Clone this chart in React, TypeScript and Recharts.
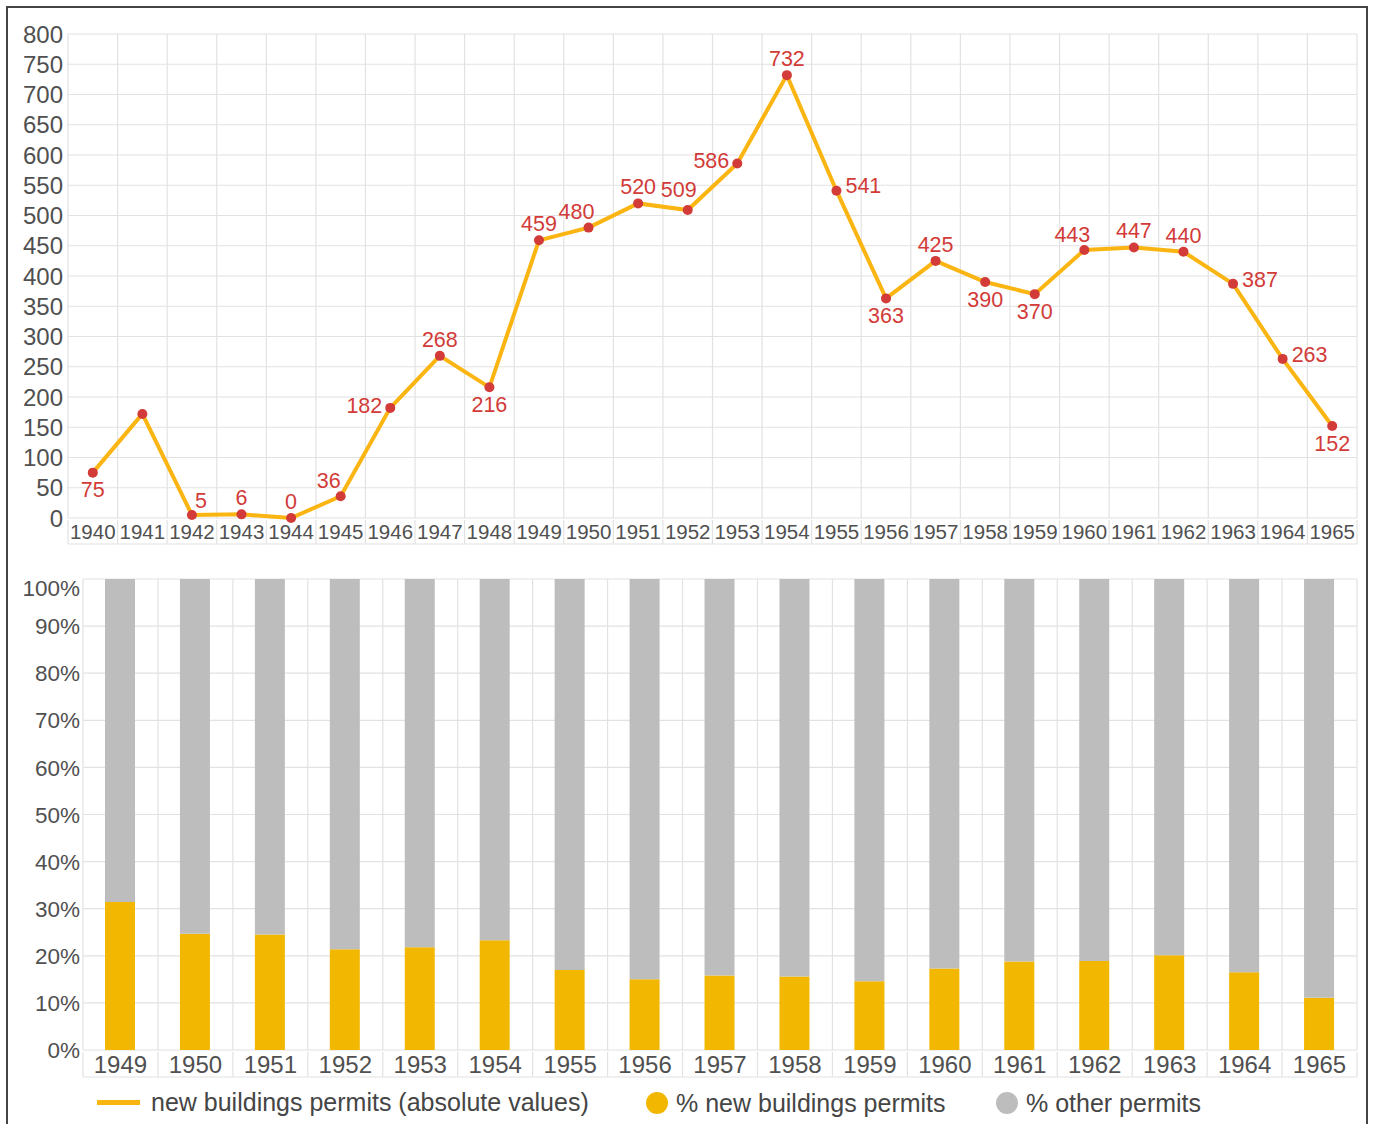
import React from 'react';
import { LineChart, Line, BarChart, Bar, XAxis, YAxis, CartesianGrid, LabelList } from 'recharts';

// top chart: absolute number of new building permits
const lineYears = ['1940', '1941', '1942', '1943', '1944', '1945', '1946', '1947', '1948', '1949', '1950', '1951', '1952', '1953', '1954', '1955', '1956', '1957', '1958', '1959', '1960', '1961', '1962', '1963', '1964', '1965'];
const newPermits = [75, 172, 5, 6, 0, 36, 182, 268, 216, 459, 480, 520, 509, 586, 732, 541, 363, 425, 390, 370, 443, 447, 440, 387, 263, 152];
// where each value label sits relative to its dot ('none' = no label)
const labelSpots = ['below', 'none', 'aboveRight', 'above', 'above', 'aboveLeft', 'left', 'above', 'below', 'above', 'aboveLeft', 'above', 'aboveLeft2', 'left', 'above', 'right', 'below', 'above', 'below', 'below', 'aboveLeft', 'above', 'above', 'right', 'right', 'below'];
const absTicks = [0, 50, 100, 150, 200, 250, 300, 350, 400, 450, 500, 550, 600, 650, 700, 750, 800];

// bottom chart: share of new building permits vs other permits
const barYears = ['1949', '1950', '1951', '1952', '1953', '1954', '1955', '1956', '1957', '1958', '1959', '1960', '1961', '1962', '1963', '1964', '1965'];
const pctNew = [31.4, 24.7, 24.5, 21.4, 21.8, 23.3, 17.0, 15.0, 15.8, 15.6, 14.6, 17.3, 18.8, 18.9, 20.1, 16.5, 11.1];
const pctOther = [68.6, 75.3, 75.5, 78.6, 78.2, 76.7, 83.0, 85.0, 84.2, 84.4, 85.4, 82.7, 81.2, 81.1, 79.9, 83.5, 88.9];
const pctTicks = [0, 10, 20, 30, 40, 50, 60, 70, 80, 90, 100];

const lineData = lineYears.map((year, i) => ({ year, value: newPermits[i] }));
const barData = barYears.map((year, i) => ({ year, pNew: pctNew[i], pOther: pctOther[i] }));

const FONT = '"Liberation Sans", Arial, sans-serif';
const GRID = '#e2e2e2';
const TEXT = '#505050';
const RED = '#d23b38';
const LINE_YELLOW = '#fbb512';
const BAR_YELLOW = '#f2b700';
const BAR_GRAY = '#bdbdbd';

const W = 1375;
const TOP_BAND = (1357 - 68) / lineYears.length;
const BOT_BAND = (1357 - 83) / barYears.length;

const bandLines = (n: number) => ({ offset }: any) =>
  Array.from({ length: n + 1 }, (_, i) => offset.left + (i * offset.width) / n);

const makeXTick = (band: number, cellH: number, count: number, fontSize: number, baseline: number) => (props: any) => {
  const { x, y, payload, index } = props;
  const h = band / 2;
  return (
    <g>
      <line x1={x - h} x2={x - h} y1={y} y2={y + cellH} stroke={GRID} strokeWidth={1.2} />
      {index === count - 1 && <line x1={x + h} x2={x + h} y1={y} y2={y + cellH} stroke={GRID} strokeWidth={1.2} />}
      <line x1={x - h} x2={x + h} y1={y + cellH} y2={y + cellH} stroke={GRID} strokeWidth={1.2} />
      <text x={x} y={y + baseline} textAnchor="middle" fontSize={fontSize} fill={TEXT} fontFamily={FONT}>
        {payload.value}
      </text>
    </g>
  );
};

const TopXTick = makeXTick(TOP_BAND, 24, lineYears.length, 20.5, 19);
const BotXTick = makeXTick(BOT_BAND, 25, barYears.length, 24, 21);

const TopYTick = (props: any) => {
  const { x, y, payload } = props;
  return (
    <text x={x} y={y} dy="0.36em" textAnchor="end" fontSize={24} fill={TEXT} fontFamily={FONT}>
      {payload.value}
    </text>
  );
};

const BotYTick = (props: any) => {
  const { x, y, payload } = props;
  const shift = payload.value === 100 ? 9 : 0;
  return (
    <text x={x} y={y + shift} dy="0.36em" textAnchor="end" fontSize={22.5} fill={TEXT} fontFamily={FONT}>
      {payload.value}%
    </text>
  );
};

const spotOffsets: Record<string, [number, number, string]> = {
  above: [0, -17, 'middle'],
  below: [0, 17, 'middle'],
  left: [-8, -3, 'end'],
  right: [9, -5, 'start'],
  aboveRight: [9, -15, 'middle'],
  aboveLeft: [-12, -16, 'middle'],
  aboveLeft2: [-9, -21, 'middle'],
};

const ValueLabel = (props: any) => {
  const { x, y, value, index } = props;
  const spot = labelSpots[index];
  if (!spot || spot === 'none') return null;
  const [dx, dy, anchor] = spotOffsets[spot];
  return (
    <text x={x + dx} y={y + dy} dy="0.36em" textAnchor={anchor as any} fontSize={21.5} fill={RED} fontFamily={FONT}>
      {value}
    </text>
  );
};

const Legend = () => (
  <svg width={W} height={44} style={{ position: 'absolute', left: 0, top: 1081 }}>
    <rect x={97} y={19} width={43} height={5} fill={LINE_YELLOW} />
    <text x={151} y={30} fontSize={25} fill="#454545" fontFamily={FONT}>new buildings permits (absolute values)</text>
    <circle cx={657} cy={22} r={11} fill={BAR_YELLOW} />
    <text x={676} y={31} fontSize={25} fill="#454545" fontFamily={FONT}>% new buildings permits</text>
    <circle cx={1007} cy={22} r={11} fill={BAR_GRAY} />
    <text x={1026} y={31} fontSize={25} fill="#454545" fontFamily={FONT}>% other permits</text>
  </svg>
);

export default function App() {
  return (
    <div style={{ position: 'absolute', left: 0, top: 0, width: W, height: 1124, background: '#fff', overflow: 'hidden', fontFamily: FONT }}>
      <div style={{ position: 'absolute', left: 6, top: 6, width: 1358, height: 1140, border: '2px solid #444' }} />

      <div style={{ position: 'absolute', left: 0, top: 0 }}>
        <LineChart width={W} height={560} data={lineData} margin={{ top: 34, right: 18, bottom: 18, left: 8 }}>
          <CartesianGrid
            stroke={GRID}
            strokeWidth={1.2}
            horizontalValues={Array.from({ length: 33 }, (_, i) => i * 25)}
            verticalCoordinatesGenerator={bandLines(lineYears.length)}
          />
          <XAxis dataKey="year" scale="band" interval={0} height={24} tickSize={0} axisLine={false} tickLine={false} tick={<TopXTick />} />
          <YAxis domain={[0, 800]} ticks={absTicks} width={60} tickSize={0} tickMargin={5} axisLine={false} tickLine={false} tick={<TopYTick />} />
          <Line
            dataKey="value"
            type="linear"
            stroke={LINE_YELLOW}
            strokeWidth={4}
            dot={{ r: 5, fill: RED, stroke: 'none' }}
            activeDot={false}
            isAnimationActive={false}
          >
            <LabelList dataKey="value" content={<ValueLabel />} />
          </Line>
        </LineChart>
      </div>

      <div style={{ position: 'absolute', left: 0, top: 545 }}>
        <BarChart width={W} height={540} data={barData} margin={{ top: 34, right: 18, bottom: 10, left: 8 }} barSize={30}>
          <CartesianGrid
            stroke={GRID}
            strokeWidth={1.2}
            horizontalValues={pctTicks}
            verticalCoordinatesGenerator={bandLines(barYears.length)}
          />
          <XAxis dataKey="year" interval={0} height={25} tickSize={0} axisLine={false} tickLine={false} tick={<BotXTick />} />
          <YAxis domain={[0, 100]} ticks={pctTicks} width={75} tickSize={0} tickMargin={3} axisLine={false} tickLine={false} tick={<BotYTick />} />
          <Bar dataKey="pNew" stackId="p" fill={BAR_YELLOW} isAnimationActive={false} />
          <Bar dataKey="pOther" stackId="p" fill={BAR_GRAY} isAnimationActive={false} />
        </BarChart>
      </div>

      <Legend />
    </div>
  );
}
